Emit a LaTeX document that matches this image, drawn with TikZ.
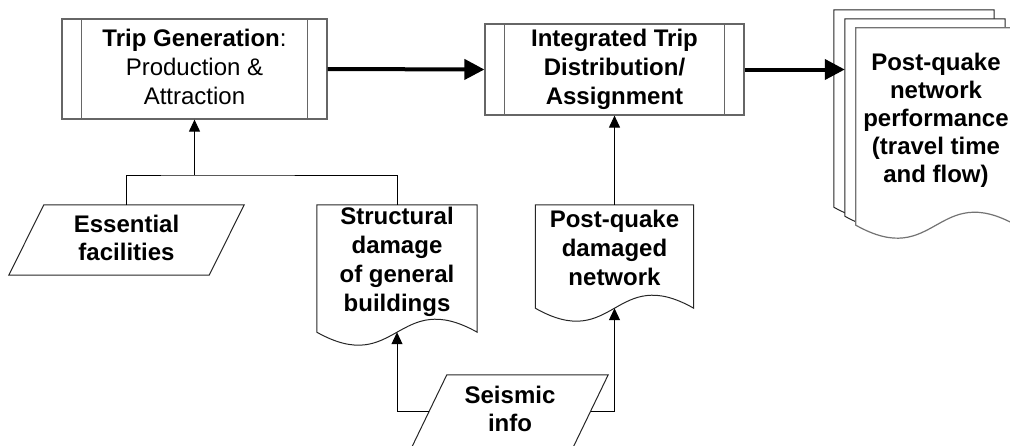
\documentclass[tikz,border=0pt]{standalone}
\usepackage{fontspec}
\setmainfont{Liberation Sans}
\usetikzlibrary{arrows.meta,positioning,backgrounds}

% outlines drawn round a node's anchors
\newcommand{\docpath}[1]{(#1.north west) -- (#1.north east) -- (#1.south east)
  .. controls ([yshift=45pt]#1.south) and ([yshift=-45pt]#1.south) .. (#1.south west) -- cycle}
\newcommand{\slantpath}[1]{([xshift=35pt]#1.north west) -- (#1.north east)
  -- ([xshift=-35pt]#1.south east) -- (#1.south west) -- cycle}

\tikzset{
  box/.style={
    inner sep=0pt,
    align=center,
    font=\fontsize{24}{29}\selectfont
  },
  tail/.style={execute at end node={\rule[-#1]{0pt}{#1}}},
  process/.style={
    box,
    draw=black!60,
    line width=1.2pt,
    tail=5pt,
    path picture={
      \draw[black!60, line width=1.2pt]
        ([xshift=19.5pt]path picture bounding box.north west) -- ([xshift=19.5pt]path picture bounding box.south west)
        ([xshift=-19.5pt]path picture bounding box.north east) -- ([xshift=-19.5pt]path picture bounding box.south east);
    }
  },
  datain/.style={
    box,
    font=\bfseries\fontsize{24}{28}\selectfont,
    tail=5pt
  },
  document/.style={
    box,
    font=\bfseries\fontsize{24}{29}\selectfont,
    tail=18pt
  },
  page/.style={inner sep=0pt, minimum width=160pt, minimum height=197pt},
  outline/.style={draw=black!85, line width=1pt},
  flow/.style={-{Triangle[length=12pt,width=11pt]}, line width=1pt},
  mainflow/.style={-{Triangle[length=20pt,width=20pt]}, line width=4pt}
}

\begin{document}
\begin{tikzpicture}[x=1pt, y=-1pt]
  \useasboundingbox (0,0) rectangle (1010,445);

  \node[process, minimum width=265pt, minimum height=100pt] (tripgen) at (194.5,69)
    {\textbf{Trip Generation}:\\Production \&\\Attraction};
  \node[process, font=\bfseries\fontsize{24}{29}\selectfont, minimum width=259pt, minimum height=91pt] (integ) at (614.5,69.5)
    {Integrated Trip\\Distribution/\\Assignment};

  \node[datain, minimum width=235pt, minimum height=70pt] (ess) at (126.5,240) {Essential\\facilities};
  \node[document, minimum width=160pt, minimum height=127pt] (struct) at (397,268.5)
    {Structural\\damage\\of general\\buildings};
  \node[document, minimum width=158pt, minimum height=103pt] (dmg) at (614.5,256.5)
    {Post-quake\\damaged\\network};
  \node[datain, tail=0pt, minimum width=196pt, minimum height=72pt] (seis) at (510,411) {Seismic\\info};

  % stacked output pages
  \node[document, page, font=\bfseries\fontsize{24}{28}\selectfont, tail=14pt] (perf) at (936,126.5)
    {Post-quake\\network\\performance\\(travel time\\and flow)};
  \node[page] (page1) at ([shift={(-22,-18)}]perf.center) {};
  \node[page] (page2) at ([shift={(-11,-9)}]perf.center) {};

  \draw[outline] \slantpath{ess};
  \draw[outline] \slantpath{seis};
  \draw[outline] \docpath{struct};
  \draw[outline] \docpath{dmg};

  \begin{scope}[on background layer]
    \draw[outline, fill=white] \docpath{page1};
    \draw[outline, fill=white] \docpath{page2};
    \draw[outline, draw=black!55, line width=1.2pt, fill=white] \docpath{perf};
  \end{scope}

  \coordinate (fork) at (194.5,175);
  \draw[line width=1pt] (ess.north) |- (fork) -| (struct.north);
  \draw[flow] (fork) -- (tripgen.south);
  \draw[flow] ([xshift=17.5pt]seis.west) -| (struct.south);
  \draw[flow] ([xshift=-17.5pt]seis.east) -| (dmg.south);
  \draw[flow] (dmg.north) -- (integ.south);

  \draw[mainflow] (tripgen.east) -- (integ.west);
  \draw[mainflow] (integ.east) -- (integ.east -| page2.west);
\end{tikzpicture}
\end{document}
